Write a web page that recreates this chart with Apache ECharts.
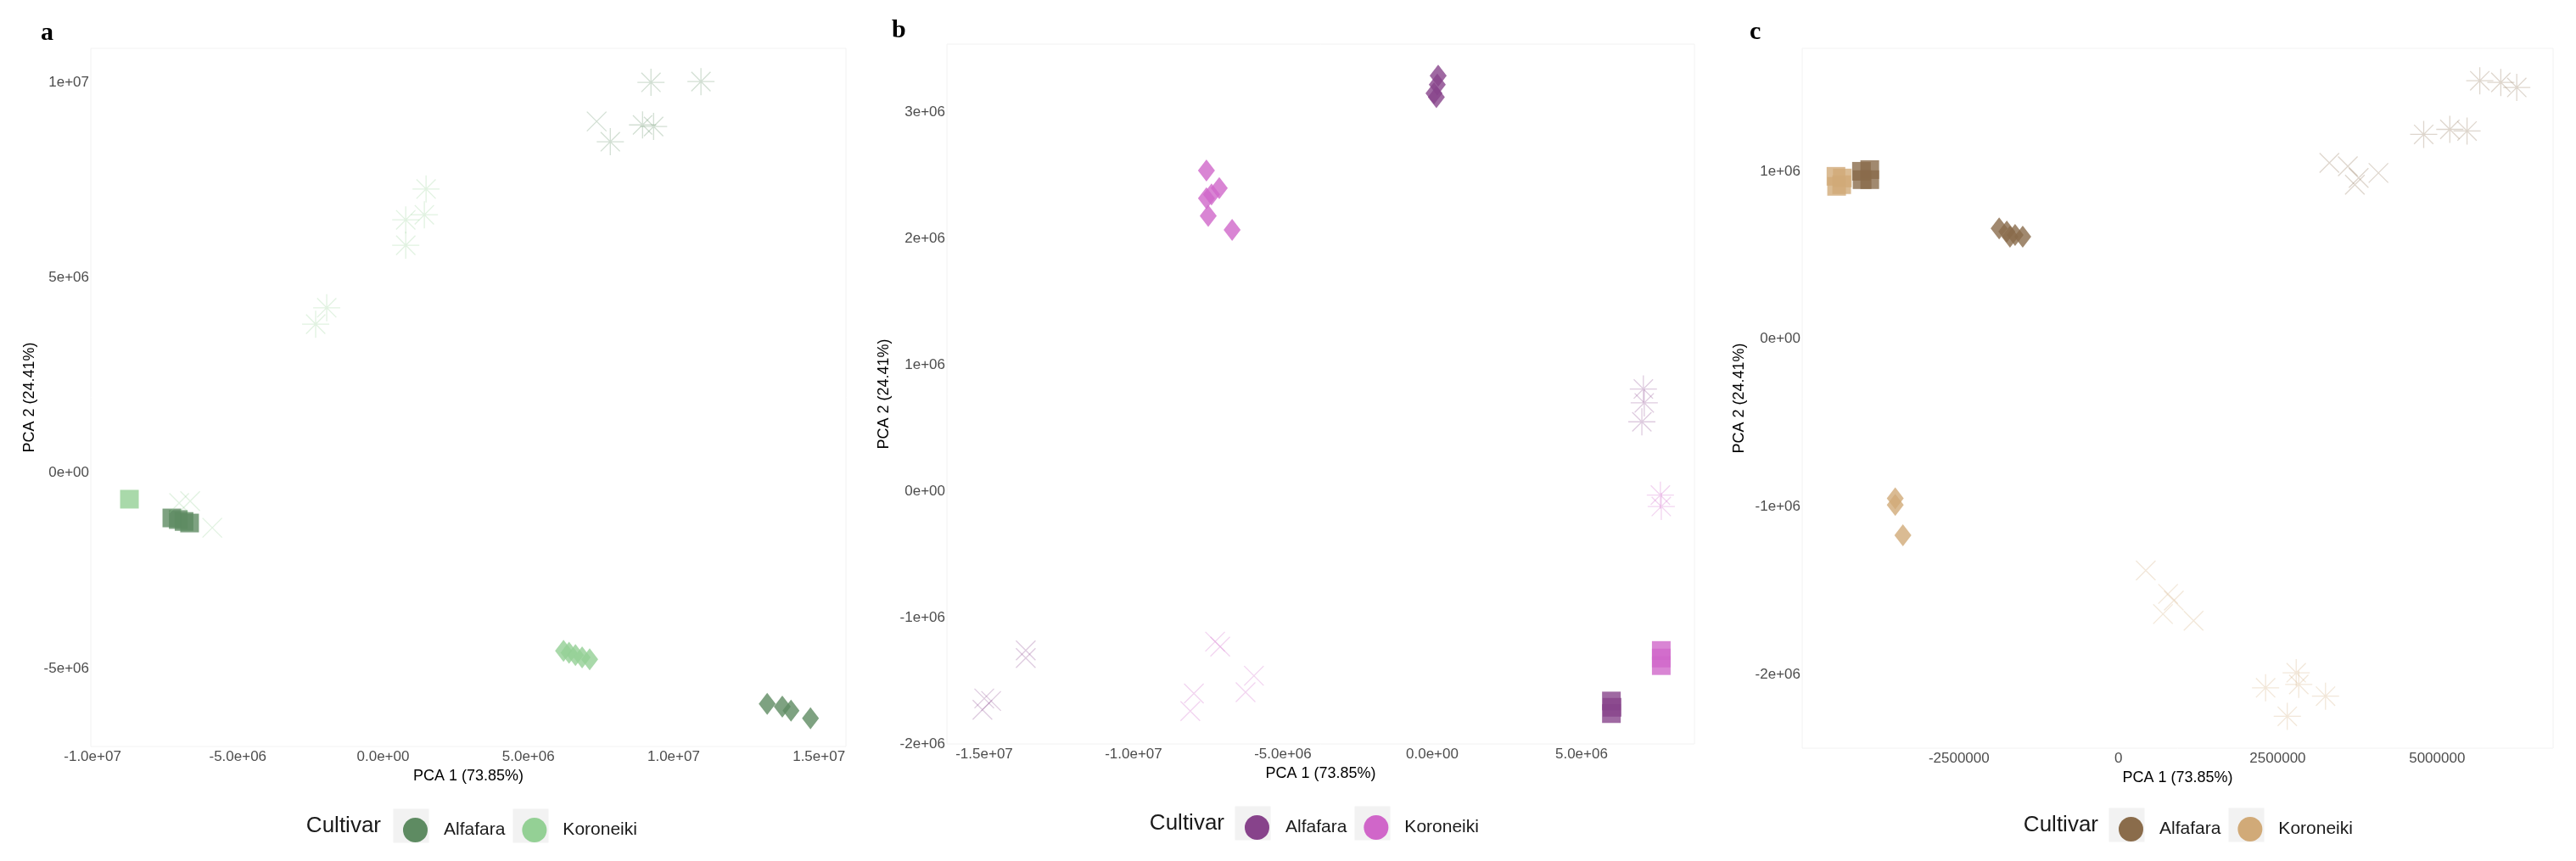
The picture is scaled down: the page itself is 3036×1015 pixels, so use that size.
<!DOCTYPE html>
<html>
<head>
<meta charset="utf-8">
<script src="https://cdn.jsdelivr.net/npm/echarts@6/dist/echarts.min.js"></script>
<style>
  html, body { margin: 0; padding: 0; background: #fff; }
  #chart { width: 3036px; height: 1015px; }
</style>
</head>
<body>
<div id="chart"></div>
<script>
// all PCA scores below are in millions (1e6)

// panel a
var aAlfSquare = [[-7.27, -1.15], [-7.05, -1.19], [-6.85, -1.24], [-6.66, -1.28]];
var aAlfDiamond = [[13.22, -5.91], [13.74, -5.98], [14.04, -6.08], [14.71, -6.28]];
var aAlfCross = [[7.35, 9.0]];
var aAlfStar = [[9.22, 10.0], [10.94, 10.02], [8.93, 8.91], [9.31, 8.87], [7.82, 8.48]];
var aKorSquare = [[-8.73, -0.67]];
var aKorDiamond = [[6.21, -4.55], [6.4, -4.6], [6.62, -4.66], [6.85, -4.72], [7.11, -4.77]];
var aKorCross = [[-7.02, -0.77], [-6.64, -0.72], [-5.88, -1.40]];
var aKorStar = [[1.48, 7.27], [1.42, 6.61], [0.78, 6.48], [0.78, 5.83], [-1.94, 4.23], [-2.32, 3.81]];

// panel b
var bAlfSquare = [[6.0, -1.66], [6.02, -1.71], [6.0, -1.76]];
var bAlfDiamond = [[0.2, 3.29], [0.17, 3.22], [0.06, 3.15], [0.14, 3.12]];
var bAlfCross = [[-15.0, -1.64], [-14.77, -1.66], [-15.06, -1.73], [-13.61, -1.26], [-13.61, -1.32]];
var bAlfStar = [[7.07, 0.81], [7.1, 0.7], [7.02, 0.55]];
var bKorSquare = [[7.67, -1.26], [7.67, -1.32], [7.67, -1.38]];
var bKorDiamond = [[-7.56, 2.54], [-7.13, 2.40], [-7.39, 2.35], [-7.56, 2.32], [-7.50, 2.18], [-6.70, 2.07]];
var bKorCross = [[-7.27, -1.19], [-7.10, -1.23], [-7.98, -1.60], [-8.10, -1.74], [-5.97, -1.46], [-6.25, -1.59]];
var bKorStar = [[7.64, -0.03], [7.67, -0.12]];

// panel c
var cAlfSquare = [[-4.03, 1.00], [-3.90, 1.01], [-4.02, 0.95], [-3.90, 0.95]];
var cAlfDiamond = [[-1.87, 0.66], [-1.75, 0.64], [-1.62, 0.62], [-1.70, 0.61], [-1.50, 0.61]];
var cAlfCross = [[3.31, 1.05], [3.60, 1.03], [3.77, 0.96], [4.08, 0.99], [3.71, 0.92]];
var cAlfStar = [[5.67, 1.54], [6.0, 1.53], [6.25, 1.50], [4.79, 1.22], [5.20, 1.25], [5.47, 1.24]];
var cKorSquare = [[-4.43, 0.97], [-4.33, 0.96], [-4.42, 0.91], [-4.34, 0.92]];
var cKorDiamond = [[-3.50, -0.95], [-3.50, -0.99], [-3.38, -1.17]];
var cKorCross = [[0.43, -1.38], [0.78, -1.52], [0.87, -1.56], [0.70, -1.64], [1.18, -1.68]];
var cKorStar = [[2.31, -2.08], [2.79, -1.99], [2.83, -2.06], [3.25, -2.13], [2.65, -2.25]];

// ticks
var aXTicks = [-10, -5, 0, 5, 10, 15];
var aXLabels = ['-1.0e+07', '-5.0e+06', '0.0e+00', '5.0e+06', '1.0e+07', '1.5e+07'];
var aYTicks = [-5, 0, 5, 10];
var aYLabels = ['-5e+06', '0e+00', '5e+06', '1e+07'];
var bXTicks = [-15, -10, -5, 0, 5];
var bXLabels = ['-1.5e+07', '-1.0e+07', '-5.0e+06', '0.0e+00', '5.0e+06'];
var bYTicks = [-2, -1, 0, 1, 2, 3];
var bYLabels = ['-2e+06', '-1e+06', '0e+00', '1e+06', '2e+06', '3e+06'];
var cXTicks = [-2.5, 0, 2.5, 5];
var cXLabels = ['-2500000', '0', '2500000', '5000000'];
var cYTicks = [-2, -1, 0, 1];
var cYLabels = ['-2e+06', '-1e+06', '0e+00', '1e+06'];

var cultivars = ['Alfafara', 'Koroneiki'];

var FONT = '"Liberation Sans", Arial, sans-serif';

var panels = [
    {
        key: 'a', colors: ['#5e8b62', '#94d095'],
        grid: {left: 107, top: 57, width: 890, height: 823},
        xRange: [-10.06, 15.93], yRange: [-7.0, 10.87],
        xTicks: aXTicks, xLabels: aXLabels, yTicks: aYTicks, yLabels: aYLabels,
        xGap: 23, yGap: 63,
        groups: [
            [aAlfSquare, aAlfDiamond, aAlfCross, aAlfStar],
            [aKorSquare, aKorDiamond, aKorCross, aKorStar]
        ],
        letter: [48, 41], legendLeft: 470, legendTop: 959, titleRight: 449
    },
    {
        key: 'b', colors: ['#87438b', '#d066c9'],
        grid: {left: 1116, top: 52, width: 881, height: 825},
        xRange: [-16.25, 8.78], yRange: [-2.0, 3.54],
        xTicks: bXTicks, xLabels: bXLabels, yTicks: bYTicks, yLabels: bYLabels,
        xGap: 21, yGap: 65,
        groups: [
            [bAlfSquare, bAlfDiamond, bAlfCross, bAlfStar],
            [bKorSquare, bKorDiamond, bKorCross, bKorStar]
        ],
        letter: [1051, 38], legendLeft: 1462, legendTop: 956, titleRight: 1443
    },
    {
        key: 'c', colors: ['#8a6c4b', '#d1aa78'],
        grid: {left: 2124, top: 57, width: 885, height: 825},
        xRange: [-4.96, 6.82], yRange: [-2.44, 1.733],
        xTicks: cXTicks, xLabels: cXLabels, yTicks: cYTicks, yLabels: cYLabels,
        xGap: 21, yGap: 65,
        groups: [
            [cAlfSquare, cAlfDiamond, cAlfCross, cAlfStar],
            [cKorSquare, cKorDiamond, cKorCross, cKorStar]
        ],
        letter: [2062, 40], legendLeft: 2492, legendTop: 958, titleRight: 2473
    }
];

// square, diamond, x (pch 4), asterisk (pch 8)
var shapeStyles = [
    function (c) { return {symbol: 'rect', symbolSize: 22, itemStyle: {color: c}}; },
    function (c) { return {symbol: 'diamond', symbolSize: [20, 26], itemStyle: {color: c}}; },
    function (c) {
        return {
            symbol: 'path://M0,0L20,20M0,20L20,0', symbolSize: 23,
            itemStyle: {color: 'rgba(0,0,0,0)', borderColor: c, borderWidth: 1.3, opacity: 0.28}
        };
    },
    function (c) {
        return {
            symbol: 'path://M4.14,4.14L24.14,24.14M4.14,24.14L24.14,4.14M0,14.14L28.28,14.14M14.14,0L14.14,28.28',
            symbolSize: 32,
            itemStyle: {color: 'rgba(0,0,0,0)', borderColor: c, borderWidth: 1.3, opacity: 0.28}
        };
    }
];

function tickFormatter(ticks, labels) {
    return function (v) {
        for (var i = 0; i < ticks.length; i++) {
            if (Math.abs(ticks[i] - v) < 1e-9) return labels[i];
        }
        return '';
    };
}

var grid = [], xAxis = [], yAxis = [], series = [], legend = [], graphic = [];

panels.forEach(function (p, gi) {
    grid.push({
        left: p.grid.left, top: p.grid.top, width: p.grid.width, height: p.grid.height,
        show: true, borderColor: '#f2f2f2', borderWidth: 1, backgroundColor: '#fff',
        containLabel: false, outerBoundsMode: 'none'
    });
    xAxis.push({
        type: 'value', gridIndex: gi, min: p.xRange[0], max: p.xRange[1],
        name: 'PCA 1 (73.85%)', nameLocation: 'middle', nameGap: p.xGap,
        nameTextStyle: {fontSize: 18, color: '#000', fontFamily: FONT},
        axisLine: {show: false}, axisTick: {show: false}, splitLine: {show: false},
        axisLabel: {
            customValues: p.xTicks, formatter: tickFormatter(p.xTicks, p.xLabels),
            margin: 4, fontSize: 17, color: '#4d4d4d', fontFamily: FONT, showMinLabel: true, showMaxLabel: true
        }
    });
    yAxis.push({
        type: 'value', gridIndex: gi, min: p.yRange[0], max: p.yRange[1],
        name: 'PCA 2 (24.41%)', nameLocation: 'middle', nameGap: p.yGap, nameRotate: 90,
        nameTextStyle: {fontSize: 18, color: '#000', fontFamily: FONT},
        axisLine: {show: false}, axisTick: {show: false}, splitLine: {show: false},
        axisLabel: {
            customValues: p.yTicks, formatter: tickFormatter(p.yTicks, p.yLabels),
            margin: 2, fontSize: 17, color: '#4d4d4d', fontFamily: FONT, showMinLabel: true, showMaxLabel: true
        }
    });

    p.groups.forEach(function (shapes, ci) {
        var name = p.key + ':' + cultivars[ci];
        shapes.forEach(function (data, si) {
            var st = shapeStyles[si](p.colors[ci]);
            series.push({
                type: 'scatter', name: name, xAxisIndex: gi, yAxisIndex: gi,
                data: data, symbol: st.symbol, symbolSize: st.symbolSize,
                itemStyle: st.itemStyle, silent: true, animation: false
            });
        });
    });

    legend.push({
        left: p.legendLeft, top: p.legendTop, orient: 'horizontal',
        itemWidth: 29, itemHeight: 29, itemGap: 20,
        selectedMode: false,
        data: cultivars.map(function (c, ci) {
            return {name: p.key + ':' + c, icon: 'circle', itemStyle: {color: p.colors[ci], borderWidth: 0, opacity: 1}};
        }),
        formatter: function (n) { return n.split(':')[1]; },
        textStyle: {fontSize: 21, color: '#1a1a1a', fontFamily: FONT, padding: [0, 0, 0, 14]}
    });

    // panel letter
    graphic.push({
        type: 'text', left: p.letter[0], top: p.letter[1] - 17,
        style: {text: p.key, font: 'bold 30px "Liberation Serif", "Times New Roman", serif', fill: '#000'}
    });
    // legend title
    graphic.push({
        type: 'text', x: p.titleRight, y: p.legendTop + 14.5,
        style: {text: 'Cultivar', font: '26px ' + FONT, fill: '#1a1a1a', align: 'right', verticalAlign: 'middle'}
    });
    // grey legend key backgrounds
    var keyX = [p.legendLeft + 14.5, p.legendLeft + 14.5 + 141];
    keyX.forEach(function (cx) {
        graphic.push({
            type: 'rect', z: -1,
            shape: {x: cx - 21, y: p.legendTop + 14.5 - 20, width: 42, height: 40},
            style: {fill: '#f2f2f2'}
        });
    });
});

var option = {
    backgroundColor: '#ffffff',
    animation: false,
    grid: grid,
    xAxis: xAxis,
    yAxis: yAxis,
    legend: legend,
    graphic: graphic,
    series: series
};

var myChart = echarts.init(document.getElementById('chart'), null, {renderer: 'canvas'});
myChart.setOption(option);
</script>
</body>
</html>
